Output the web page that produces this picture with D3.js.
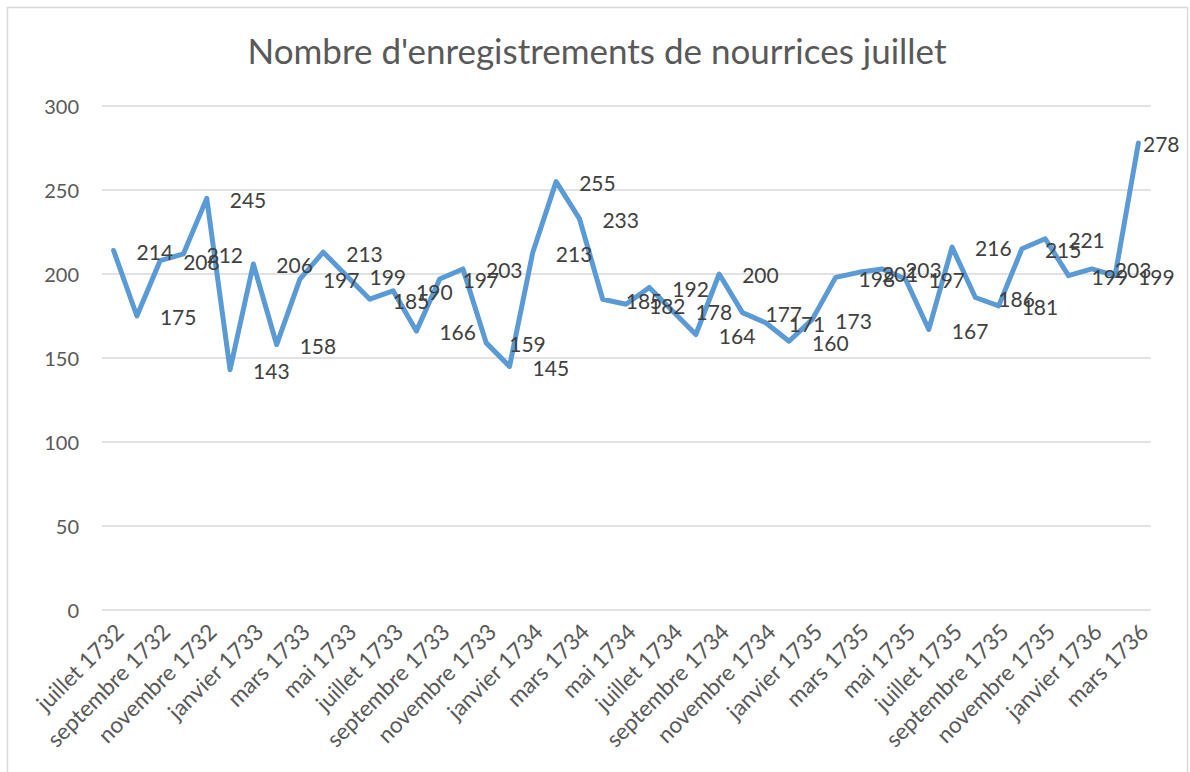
<!DOCTYPE html>
<html><head><meta charset="utf-8">
<script src="https://cdn.jsdelivr.net/npm/d3@7"></script>
<style>body{margin:0;background:#fff}svg{display:block}</style>
</head><body>
<svg id="c" width="1190" height="772"></svg>
<script>
const title = "Nombre d'enregistrements de nourrices juillet";
const months = ["juillet 1732","août 1732","septembre 1732","octobre 1732","novembre 1732","décembre 1732",
"janvier 1733","février 1733","mars 1733","avril 1733","mai 1733","juin 1733",
"juillet 1733","août 1733","septembre 1733","octobre 1733","novembre 1733","décembre 1733",
"janvier 1734","février 1734","mars 1734","avril 1734","mai 1734","juin 1734",
"juillet 1734","août 1734","septembre 1734","octobre 1734","novembre 1734","décembre 1734",
"janvier 1735","février 1735","mars 1735","avril 1735","mai 1735","juin 1735",
"juillet 1735","août 1735","septembre 1735","octobre 1735","novembre 1735","décembre 1735",
"janvier 1736","février 1736","mars 1736"];
const values = [214,175,208,212,245,143,206,158,197,213,199,185,190,166,197,203,159,145,213,255,233,185,182,192,178,164,200,177,171,160,173,198,201,203,197,167,216,186,181,215,221,199,203,199,278];
const yTicks = [0,50,100,150,200,250,300];

const svg = d3.select("#c");
const font = "Lato, 'Open Sans', sans-serif";

svg.append("rect").attr("x",7.5).attr("y",7.5).attr("width",1180).attr("height",800)
  .attr("fill","#fff").attr("stroke","#d9d9d9").attr("stroke-width",1.5);

const x = d3.scalePoint().domain(months).range([113.6,1138.4]);
const y = d3.scaleLinear().domain([0,300]).range([610,106]);

svg.append("text").attr("x",597).attr("y",64).attr("text-anchor","middle")
  .attr("font-family",font).attr("font-size",35).attr("fill","#595959").text(title);

// gridlines
svg.append("g").selectAll("line").data(yTicks).join("line")
  .attr("x1",102).attr("x2",1151).attr("y1",d=>y(d)).attr("y2",d=>y(d))
  .attr("stroke","#d9d9d9").attr("stroke-width",1.5);

// y axis labels
const yAxis = d3.axisLeft(y).tickValues(yTicks).tickSize(0).tickPadding(0);
const gy = svg.append("g").attr("transform","translate(79,0)").call(yAxis);
gy.select(".domain").remove();
gy.selectAll("text").attr("font-family",font).attr("font-size",20).attr("fill","#595959").attr("dy","0.35em");

// x axis labels
const xAxis = d3.axisBottom(x).tickValues(months.filter((d,i)=>i%2===0)).tickSize(0).tickPadding(0);
const gx = svg.append("g").call(xAxis);
gx.select(".domain").remove();
gx.selectAll(".tick").attr("transform",d=>`translate(${x(d)+6},628)`);
gx.selectAll("text").attr("font-family",font).attr("font-size",22.5).attr("fill","#595959")
  .attr("text-anchor","end").attr("transform","rotate(-45)").attr("x",0).attr("y",0).attr("dy","0.35em");

// line
const line = d3.line().x((d,i)=>x(months[i])).y(d=>y(d));
svg.append("path").datum(values).attr("d",line).attr("fill","none")
  .attr("stroke","#5b9bd5").attr("stroke-width",5).attr("stroke-linejoin","round").attr("stroke-linecap","round");

// data labels
svg.append("g").selectAll("text").data(values).join("text")
  .attr("x",(d,i)=>Math.min(x(months[i])+23, 1143))
  .attr("y",d=>y(d)+2).attr("dy","0.35em")
  .attr("font-family",font).attr("font-size",21).attr("fill","#404040").text(d=>d);
</script>
</body></html>
